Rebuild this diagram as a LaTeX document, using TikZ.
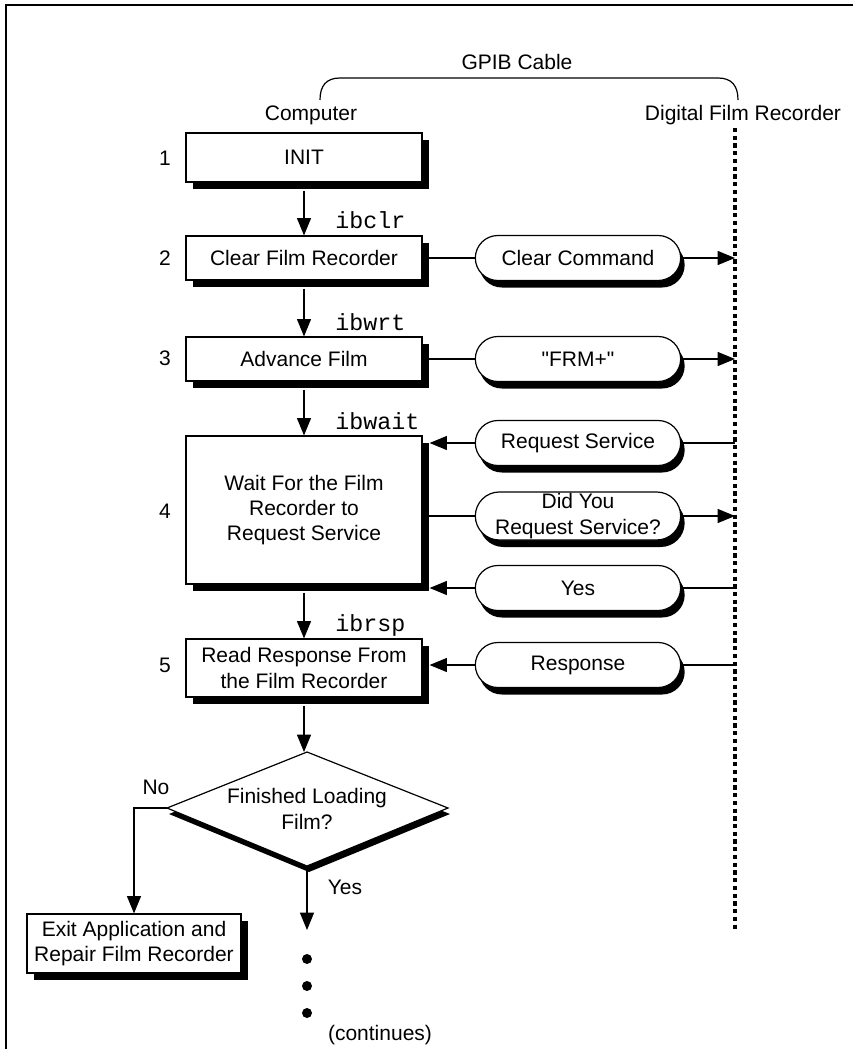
\documentclass[tikz,border=0pt]{standalone}
\usepackage{fontspec}
\setmainfont{Liberation Sans}[Ligatures=TeXOff]
\setmonofont{Liberation Mono}
\usetikzlibrary{arrows.meta,shapes.misc,shadows,calc}
\begin{document}
\begin{tikzpicture}[x=0.75pt,y=-0.75pt,
  font=\fontsize{15.75}{19}\selectfont,
  box/.style={draw, fill=white, line width=0.9pt, minimum width=177pt, inner sep=0pt, align=center,
    drop shadow={shadow xshift=5.25pt, shadow yshift=-5.25pt, opacity=1, fill=black}},
  pill/.style={rounded rectangle, draw, fill=white, line width=0.9pt, minimum width=154pt, minimum height=33.75pt, inner sep=0pt, align=center,
    drop shadow={shadow xshift=3pt, shadow yshift=-5.25pt, opacity=1, fill=black}},
  arr/.style={line width=0.9pt, -{Triangle[length=13pt,width=10.5pt]}},
  ln/.style={line width=0.9pt},
  code/.style={font=\ttfamily\fontsize{17.5}{20}\selectfont, anchor=west, inner sep=0pt},
  dotmark/.style={circle, fill=black, inner sep=0pt, minimum size=7.5pt}]
\useasboundingbox (0,0) rectangle (853,1049);
% frame
\draw[line width=1.6pt] (6,1049) -- (6,5) -- (853,5);
% header
\node (gpib) at (517,62) {GPIB Cable};
\node (comp) at (311,115) {Computer};
\node (dfr) at (743,115) {Digital Film Recorder};
\draw[ln] (320,100) .. controls (320,86) and (326,78) .. (340,78) -- (718,78) .. controls (732,78) and (738,86) .. (738,100);
% dotted line
\coordinate (dtop) at (735,128);
\coordinate (dbot) at (735,930);
\draw[line width=2.3pt, dash pattern=on 3.2pt off 2.6pt] (dtop) -- (dbot);
% boxes
\node[box, minimum height=36.75pt] (b1) at (304,157.5) {INIT};
\node[box, minimum height=33pt] (b2) at (304,258) {Clear Film Recorder};
\node[box, minimum height=33pt] (b3) at (304,359) {Advance Film};
\node[box, minimum height=111pt] (b4) at (304,510) {Wait For the Film\\Recorder to\\Request Service};
\node[box, minimum height=43.5pt] (b5) at (304,668) {Read Response From\\the Film Recorder};
% decision diamond
\coordinate (dt) at (307,752);
\coordinate (dl) at (167,808);
\coordinate (dr) at (448,808);
\coordinate (db) at (307,866);
\fill[black] ([shift={(2,6)}]dt) -- ([shift={(2,6)}]dr) -- ([shift={(2,6)}]db) -- ([shift={(2,6)}]dl) -- cycle;
\draw[ln, fill=white] (dt) -- (dr) -- (db) -- (dl) -- cycle;
\node[align=center] (dtext) at (307,809) {Finished Loading\\Film?};
\node[box, minimum width=160.5pt, minimum height=44.25pt] (ex) at (134,943.5) {Exit Application and\\Repair Film Recorder};
% numbers
\node (n1) at (165,158) {1};
\node (n2) at (165,258) {2};
\node (n3) at (165,358) {3};
\node (n4) at (165,511) {4};
\node (n5) at (165,665) {5};
% code labels
\node[code] (c1) at (335,220) {ibclr};
\node[code] (c2) at (335,322) {ibwrt};
\node[code] (c3) at (335,421) {ibwait};
\node[code] (c4) at (335,625) {ibrsp};
% pills
\node[pill] (p1) at (578,258) {Clear Command};
\node[pill] (p2) at (578,359) {"FRM+"};
\node[pill] (p3) at (578,443) {Request Service};
\node[pill, minimum height=36pt] (p4) at (578,516) {Did You\\Request Service?};
\node[pill] (p5) at (578,588) {Yes};
\node[pill] (p6) at (578,665) {Response};
% vertical flow
\draw[arr, shorten <=6pt] (b1.south) -- (b2.north);
\draw[arr, shorten <=6pt] (b2.south) -- (b3.north);
\draw[arr, shorten <=6pt] (b3.south) -- (b4.north);
\draw[arr, shorten <=6pt] (b4.south) -- (b5.north);
\draw[arr, shorten <=6pt] (b5.south) -- (b5.south |- dt);
\coordinate (cont) at (307,930);
\draw[arr] (db) -- (cont);
\draw[arr] (dl) -| (ex.north);
\node (no) at (156,787) {No};
\node (yes) at (345,887) {Yes};
\node[dotmark] (o1) at (307,959) {};
\node[dotmark] (o2) at (307,986) {};
\node[dotmark] (o3) at (307,1013) {};
\node (cnt) at (380,1035) {(continues)};
% horizontal messages
\draw[ln] (b2.east) -- (p1.west);
\draw[arr] (p1.east) -- (p1.east -| dtop);
\draw[ln] (b3.east) -- (p2.west);
\draw[arr] (p2.east) -- (p2.east -| dtop);
\draw[arr] (p3.west) -- ([xshift=5.25pt]p3.west -| b4.east);
\draw[ln] (p3.east) -- (p3.east -| dtop);
\draw[ln] (b4.east |- p4.west) -- (p4.west);
\draw[arr] (p4.east) -- (p4.east -| dtop);
\draw[arr] (p5.west) -- ([xshift=5.25pt]p5.west -| b4.east);
\draw[ln] (p5.east) -- (p5.east -| dtop);
\draw[arr] (p6.west) -- ([xshift=5.25pt]p6.west -| b5.east);
\draw[ln] (p6.east) -- (p6.east -| dtop);
\end{tikzpicture}
\end{document}
